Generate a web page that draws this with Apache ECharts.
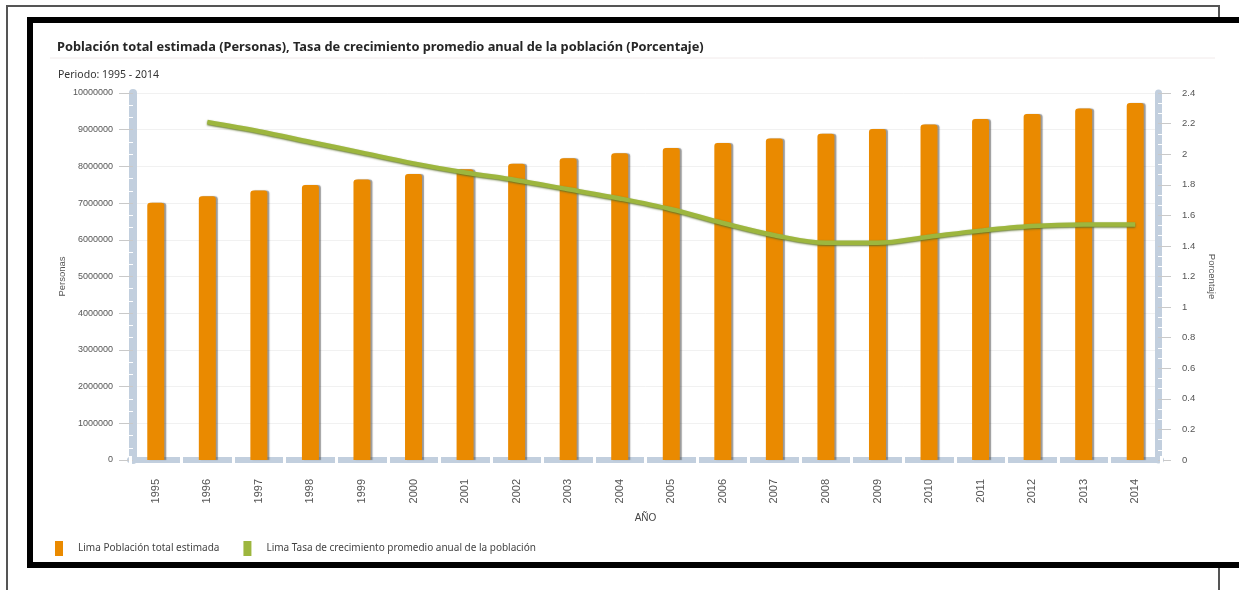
<!DOCTYPE html>
<html>
<head>
<meta charset="utf-8">
<script src="https://cdn.jsdelivr.net/npm/echarts@6/dist/echarts.min.js"></script>
<style>
  html, body { margin: 0; padding: 0; background: #fff; }
  #chart { width: 1239px; height: 590px; }
</style>
</head>
<body>
<div id="chart"></div>
<script>
// Lima: población total estimada y tasa de crecimiento, 1995 - 2014
const years = ['1995', '1996', '1997', '1998', '1999', '2000', '2001', '2002', '2003', '2004',
               '2005', '2006', '2007', '2008', '2009', '2010', '2011', '2012', '2013', '2014'];

// Población total estimada (personas)
const poblacion = [7010000, 7190000, 7340000, 7490000, 7640000, 7790000, 7920000, 8070000, 8220000, 8360000,
                   8500000, 8640000, 8760000, 8890000, 9020000, 9140000, 9290000, 9430000, 9580000, 9730000];

// Tasa de crecimiento promedio anual (%)
const tasa = [null, 2.21, 2.15, 2.08, 2.01, 1.94, 1.88, 1.83, 1.77, 1.71,
              1.64, 1.55, 1.47, 1.42, 1.42, 1.46, 1.50, 1.53, 1.54, 1.54];

// Axis ranges
const leftAxis = { min: 0, max: 10000000, interval: 1000000 };
const rightAxis = { min: 0, max: 2.4, interval: 0.2 };

const titleText = 'Población total estimada (Personas), Tasa de crecimiento promedio anual de la población (Porcentaje)';
const subtitleText = 'Periodo: 1995 - 2014';
const seriesNames = ['Lima Población total estimada', 'Lima Tasa de crecimiento promedio anual de la población'];

const barColor = '#EA8A00';
const lineColor = '#9DB63E';
const stripColor = '#C2CFDE';
const labelFont = 'Liberation Sans';
const textFont = 'Noto Sans';

const chart = echarts.init(document.getElementById('chart'), null, { renderer: 'canvas' });

chart.setOption({
  backgroundColor: '#fff',
  animation: false,
  graphic: [
    // outer thin frame
    { type: 'polyline', z: 0, shape: { points: [[7, 590], [7, 6], [1219, 6], [1219, 590]] },
      style: { stroke: '#555', lineWidth: 2, fill: null } },
    // heavy black frame
    { type: 'rect', z: 0, shape: { x: 30, y: 20, width: 1240, height: 545 },
      style: { stroke: '#000', lineWidth: 6, fill: '#fff' } },
    // faint rule under the title
    { type: 'line', z: 1, shape: { x1: 50, y1: 58, x2: 1215, y2: 58 },
      style: { stroke: '#f1eaea', lineWidth: 1 } }
  ],
  title: [
    { text: titleText, left: 52, top: 36,
      textStyle: { fontFamily: textFont, fontSize: 12.8, fontWeight: 'bold', color: '#262626' } },
    { text: subtitleText, left: 53, top: 65,
      textStyle: { fontFamily: textFont, fontSize: 10.5, fontWeight: 'normal', color: '#333' } }
  ],
  legend: {
    left: 55, top: 541, padding: 0,
    icon: 'rect', itemWidth: 8, itemHeight: 15, itemGap: 24,
    data: seriesNames,
    textStyle: { fontFamily: textFont, fontSize: 10, color: '#444', padding: [0, 0, 0, 10] }
  },
  grid: { left: 130, right: 78, top: 93, bottom: 130 },
  xAxis: [
    {
      type: 'category', data: years, position: 'bottom', offset: 8,
      name: 'AÑO', nameLocation: 'middle', nameGap: 45,
      nameTextStyle: { fontFamily: labelFont, fontSize: 10, color: '#444' },
      axisLine: { show: true, lineStyle: { color: stripColor, width: 6 } },
      axisTick: { show: true, inside: true, length: 4, lineStyle: { color: '#fff', width: 3 } },
      axisLabel: { rotate: 90, margin: 11, fontFamily: labelFont, fontSize: 11, color: '#555' },
      splitLine: { show: false }
    },
    {
      // white separators on the lower half of the category strip
      type: 'category', data: years, position: 'bottom', offset: 8,
      axisLine: { show: false },
      axisTick: { show: true, inside: false, length: 4, lineStyle: { color: '#fff', width: 3 } },
      axisLabel: { show: false },
      splitLine: { show: false }
    }
  ],
  yAxis: [
    {
      type: 'value', position: 'left', offset: -3,
      min: leftAxis.min, max: leftAxis.max, interval: leftAxis.interval,
      name: 'Personas', nameLocation: 'middle', nameGap: 66, nameMoveOverlap: false,
      nameTextStyle: { fontFamily: labelFont, fontSize: 9.5, color: '#555' },
      axisLine: { show: true, lineStyle: { color: stripColor, width: 8 } },
      axisTick: { show: true, length: 14, lineStyle: { color: '#c9c9c9', width: 1 } },
      minorTick: { show: true, splitNumber: 3, length: 4, lineStyle: { color: '#fff', width: 1 } },
      axisLabel: { margin: 20, fontFamily: labelFont, fontSize: 9, color: '#555',
                   formatter: (v) => String(v) },
      splitLine: { show: true, lineStyle: { color: '#f1f1f1', width: 1 } }
    },
    {
      type: 'value', position: 'right', offset: -3,
      min: rightAxis.min, max: rightAxis.max, interval: rightAxis.interval,
      name: 'Porcentaje', nameLocation: 'middle', nameGap: 49, nameRotate: -90, nameMoveOverlap: false,
      nameTextStyle: { fontFamily: labelFont, fontSize: 9.5, color: '#555' },
      axisLine: { show: true, lineStyle: { color: stripColor, width: 7 } },
      axisTick: { show: true, length: 13, lineStyle: { color: '#c9c9c9', width: 1 } },
      minorTick: { show: true, splitNumber: 3, length: 4, lineStyle: { color: '#fff', width: 1 } },
      axisLabel: { margin: 24, fontFamily: labelFont, fontSize: 9.5, color: '#555' },
      splitLine: { show: false }
    }
  ],
  series: [
    {
      name: seriesNames[0], type: 'bar', xAxisIndex: 0, yAxisIndex: 0,
      data: poblacion, barWidth: 17, color: barColor,
      itemStyle: {
        color: barColor, borderRadius: [3, 3, 0, 0],
        shadowColor: 'rgba(70,70,70,0.55)', shadowOffsetX: 2, shadowOffsetY: 0, shadowBlur: 1
      }
    },
    {
      name: seriesNames[1], type: 'line', xAxisIndex: 0, yAxisIndex: 1,
      data: tasa, smooth: 0.35, symbol: 'none', color: lineColor,
      lineStyle: {
        color: lineColor, width: 4.5,
        shadowColor: 'rgba(90,110,35,0.9)', shadowBlur: 2, shadowOffsetY: 1
      },
      z: 3
    }
  ]
});
</script>
</body>
</html>
